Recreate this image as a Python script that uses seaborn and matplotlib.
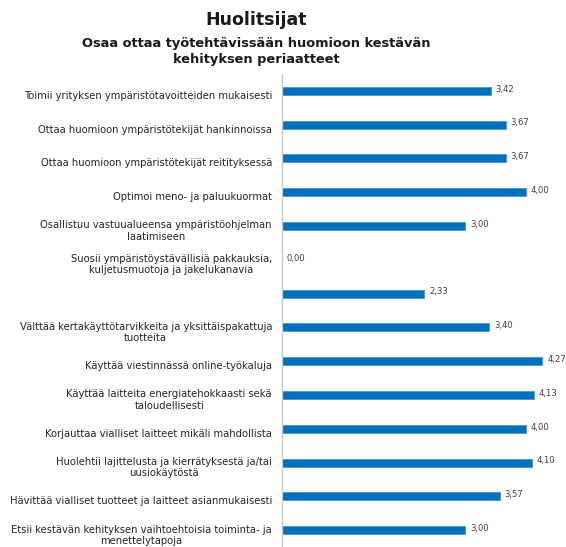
import matplotlib
matplotlib.use("Agg")
import matplotlib.pyplot as plt
import matplotlib.transforms as mtransforms
import seaborn as sns
import pandas as pd

categories = [
    "Toimii yrityksen ympäristötavoitteiden mukaisesti",
    "Ottaa huomioon ympäristötekijät hankinnoissa",
    "Ottaa huomioon ympäristötekijät reitityksessä",
    "Optimoi meno- ja paluukuormat",
    "Osallistuu vastuualueensa ympäristöohjelman\nlaatimiseen",
    "Suosii ympäristöystävällisiä pakkauksia,\nkuljetusmuotoja ja jakelukanavia",
    "",
    "Välttää kertakäyttötarvikkeita ja yksittäispakattuja\ntuotteita",
    "Käyttää viestinnässä online-työkaluja",
    "Käyttää laitteita energiatehokkaasti sekä\ntaloudellisesti",
    "Korjauttaa vialliset laitteet mikäli mahdollista",
    "Huolehtii lajittelusta ja kierrätyksestä ja/tai\nuusiokäytöstä",
    "Hävittää vialliset tuotteet ja laitteet asianmukaisesti",
    "Etsii kestävän kehityksen vaihtoehtoisia toiminta- ja\nmenettelytapoja",
]
values = [3.42, 3.67, 3.67, 4.00, 3.00, 0.00, 2.33, 3.40, 4.27, 4.13, 4.00, 4.10, 3.57, 3.00]

title = "Huolitsijat"
subtitle = "Osaa ottaa työtehtävissään huomioon kestävän\nkehityksen periaatteet"

df = pd.DataFrame({"cat": categories, "val": values})

sns.set_theme(style="white")
plt.rcParams["font.family"] = ["DejaVu Sans"]

W, H = 566, 547
fig = plt.figure(figsize=(W / 100, H / 100), dpi=100)
ax_left = 282 / W
unit = 61.0
xmax = 4.6
ax = fig.add_axes([ax_left, 0.0, unit * xmax / W, (H - 74) / H])

sns.barplot(data=df, x="val", y="cat", orient="h", color="#0070C0",
            saturation=1, width=0.235, ax=ax, order=categories,
            edgecolor="#4f94d4", linewidth=0.6)

ax.set_xlim(0, xmax)
ax.set_ylim(len(categories) - 0.5, -0.5)
ax.set_xlabel("")
ax.set_ylabel("")
ax.set_xticks([])
ax.set_yticks(range(len(categories)))
ax.set_yticklabels([""] * len(categories))
for s in ["top", "right", "bottom"]:
    ax.spines[s].set_visible(False)
ax.spines["left"].set_color("#c8c8c8")
ax.spines["left"].set_linewidth(1.0)
ax.tick_params(axis="y", length=0)

# category labels: centered about 5 px below each bar (Excel-style category centre)
lab_trans = ax.get_yaxis_transform() + mtransforms.ScaledTranslation(
    -10 / 100, -5 / 100, fig.dpi_scale_trans)
for i, c in enumerate(categories):
    ax.text(0, i, c, transform=lab_trans, ha="right", va="center",
            multialignment="center", fontsize=7.2, color="#262626",
            linespacing=1.15, clip_on=False)

for i, v in enumerate(values):
    ax.text(v + 0.08, i - 0.05, f"{v:.2f}".replace(".", ","), va="center", ha="left",
            fontsize=6.1, color="#404040", clip_on=False)

fig.text(256 / W, 1 - 20 / H, title, ha="center", va="center",
         fontsize=12.5, fontweight="bold", color="#1a1a1a")
fig.text(256 / W, 1 - 51 / H, subtitle, ha="center", va="center",
         fontsize=9.4, fontweight="bold", color="#1a1a1a", linespacing=1.3)

fig.savefig("out.png", dpi=100)
